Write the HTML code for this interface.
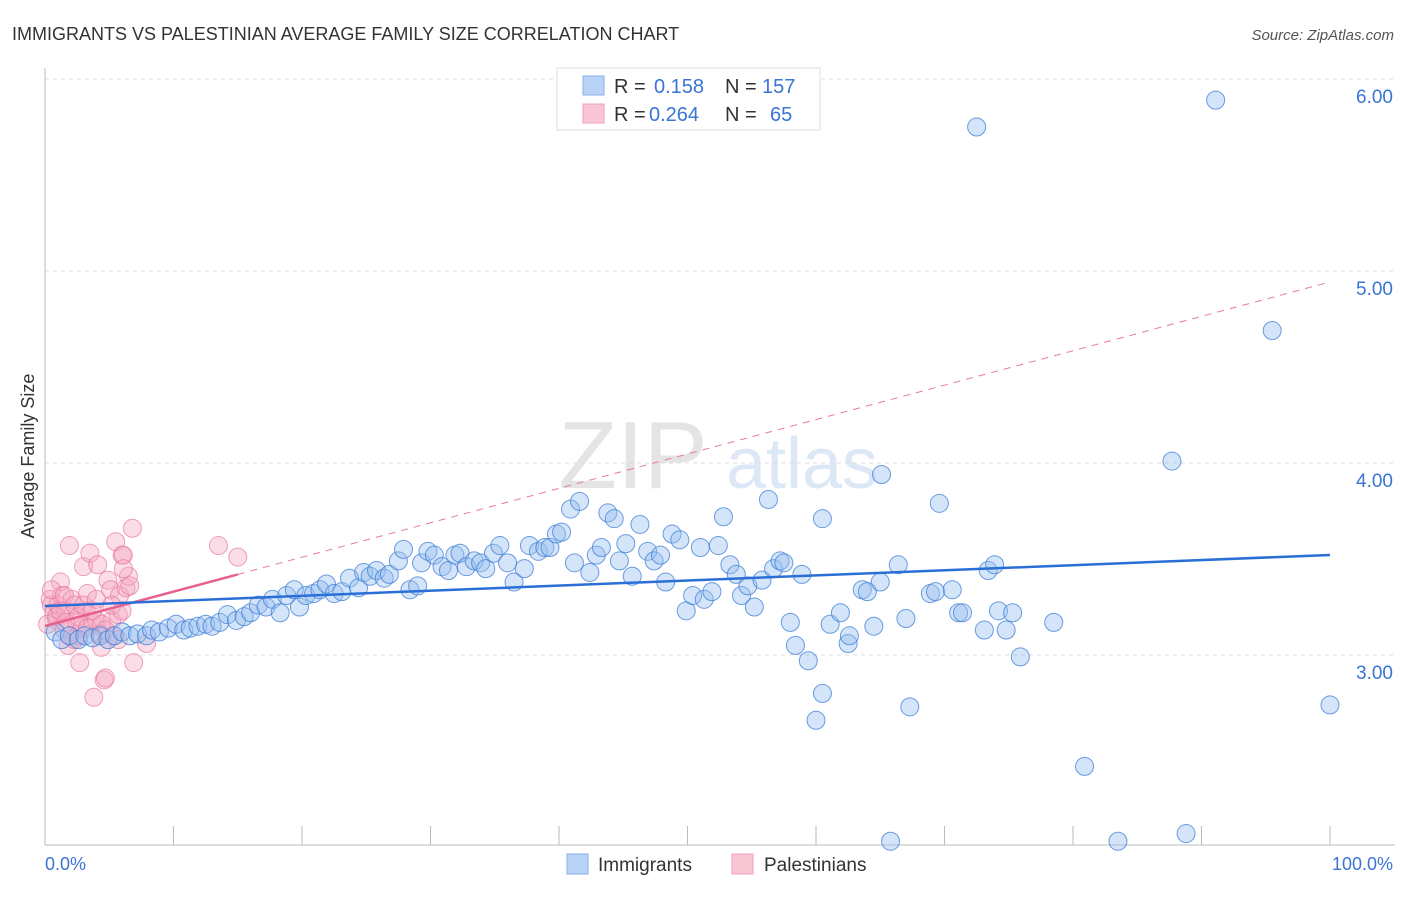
<!DOCTYPE html>
<html><head><meta charset="utf-8"><style>
body{margin:0;background:#fff;font-family:"Liberation Sans",sans-serif;}
svg text{font-family:"Liberation Sans",sans-serif;}
</style></head><body>
<svg id="chart" width="1406" height="892" xmlns="http://www.w3.org/2000/svg">
<text x="12" y="40" font-size="18" fill="#333">IMMIGRANTS VS PALESTINIAN AVERAGE FAMILY SIZE CORRELATION CHART</text>
<text x="1394" y="40" font-size="15" fill="#555" text-anchor="end" font-style="italic">Source: ZipAtlas.com</text>
<g>
<text x="633" y="488" font-size="96" fill="#e4e4e4" text-anchor="middle" font-family="Liberation Serif">ZIP</text>
<text x="802" y="488" font-size="72" fill="#dde8f6" text-anchor="middle">atlas</text>
</g>
<g id="grid"></g>
<g id="axes"></g>
<g id="marks"></g>
<g id="lines"></g>
<g>
<rect x="557" y="68" width="263" height="62" fill="#fff" stroke="#ddd"/>
<rect x="583" y="76" width="21" height="19" fill="#b8d3f5" stroke="#88b0e6"/>
<rect x="583" y="104" width="21" height="19" fill="#f9c6d6" stroke="#f0a0ba"/>
<text x="614" y="93" font-size="20" fill="#333">R =</text>
<text x="654" y="93" font-size="20" fill="#3a74d4">0.158</text>
<text x="725" y="93" font-size="20" fill="#333">N =</text>
<text x="762" y="93" font-size="20" fill="#3a74d4">157</text>
<text x="614" y="121" font-size="20" fill="#333">R =</text>
<text x="649" y="121" font-size="20" fill="#3a74d4">0.264</text>
<text x="725" y="121" font-size="20" fill="#333">N =</text>
<text x="770" y="121" font-size="20" fill="#3a74d4">65</text>
</g>
<g>
<rect x="567" y="854" width="21" height="20" fill="#b8d3f5" stroke="#88b0e6"/>
<text x="598" y="871" font-size="19" fill="#333">Immigrants</text>
<rect x="732" y="854" width="21" height="20" fill="#f9c6d6" stroke="#f0a0ba"/>
<text x="764" y="871" font-size="19" fill="#333">Palestinians</text>
</g>
<text transform="translate(34,456) rotate(-90)" font-size="18" fill="#333" text-anchor="middle">Average Family Size</text>
<text x="45" y="870" font-size="18" fill="#3a74d4">0.0%</text>
<text x="1393" y="870" font-size="18" fill="#3a74d4" text-anchor="end">100.0%</text>
</svg>
<script>
const yTicks=[3,4,5,6];
const yTickLabels=["3.00","4.00","5.00","6.00"];
const xTicks=[0,10,20,30,40,50,60,70,80,90,100];
const immX=[0.8,1.3,1.9,2.6,3.1,3.7,4.3,4.9,5.4,6.0,6.6,7.2,7.9,8.3,8.9,9.6,10.2,10.8,11.3,11.9,12.5,13.0,13.6,14.2,14.9,15.5,16.0,16.6,17.2,17.7,18.3,18.8,19.4,19.8,20.3,20.9,21.4,21.9,22.5,23.1,23.7,24.4,24.8,25.3,25.8,26.4,26.8,27.5,27.9,28.4,29.0,29.3,29.8,30.3,30.9,31.4,31.9,32.3,32.8,33.4,33.9,34.3,34.9,35.4,36.0,36.5,37.3,37.7,38.4,38.9,39.3,39.8,40.2,40.9,41.6,41.2,42.4,42.9,43.3,43.8,44.3,44.7,45.2,45.7,46.3,46.9,47.4,47.9,48.3,48.8,49.4,49.9,50.4,51.0,51.3,51.9,52.4,52.8,53.3,53.8,54.2,54.7,55.2,55.8,56.3,56.7,57.2,57.5,58.0,58.4,58.9,59.4,60.0,60.5,60.5,61.1,61.9,62.5,62.6,63.6,64.0,64.5,65.0,65.1,65.8,66.4,67.0,67.3,68.9,69.3,69.6,70.6,71.1,71.4,72.5,73.1,73.4,73.9,74.2,74.8,75.3,75.9,78.5,80.9,83.5,87.7,88.8,91.1,95.5,100];
const immY=[3.12,3.08,3.10,3.08,3.10,3.09,3.10,3.08,3.10,3.12,3.10,3.11,3.10,3.13,3.12,3.14,3.16,3.13,3.14,3.15,3.16,3.15,3.17,3.21,3.18,3.20,3.22,3.26,3.25,3.29,3.22,3.31,3.34,3.25,3.31,3.32,3.34,3.37,3.32,3.33,3.40,3.35,3.43,3.41,3.44,3.40,3.42,3.49,3.55,3.34,3.36,3.48,3.54,3.52,3.46,3.44,3.52,3.53,3.46,3.49,3.48,3.45,3.53,3.57,3.48,3.38,3.45,3.57,3.54,3.56,3.56,3.63,3.64,3.76,3.80,3.48,3.43,3.52,3.56,3.74,3.71,3.49,3.58,3.41,3.68,3.54,3.49,3.52,3.38,3.63,3.60,3.23,3.31,3.56,3.29,3.33,3.57,3.72,3.47,3.42,3.31,3.36,3.25,3.39,3.81,3.45,3.49,3.48,3.17,3.05,3.42,2.97,2.66,2.80,3.71,3.16,3.22,3.06,3.10,3.34,3.33,3.15,3.38,3.94,2.03,3.47,3.19,2.73,3.32,3.33,3.79,3.34,3.22,3.22,5.75,3.13,3.44,3.47,3.23,3.13,3.22,2.99,3.17,2.42,2.03,4.01,2.07,5.89,4.69,2.74];
const palX=[0.4,0.5,0.7,0.9,1.0,1.2,1.3,1.5,1.6,1.8,1.9,2.1,2.3,2.4,2.6,2.7,2.9,3.0,3.2,3.3,3.5,3.7,3.8,4.0,4.1,4.3,4.4,4.6,4.7,4.9,5.1,5.2,5.4,5.5,5.7,5.8,6.0,6.1,6.3,6.5,6.6,6.8,6.9,7.9,13.5,15.0,0.2,0.5,0.9,1.2,1.5,1.6,1.9,2.3,2.6,3.0,3.3,3.7,4.0,4.4,4.7,5.2,5.7,6.0,6.1];
const palY=[3.29,3.26,3.22,3.18,3.26,3.38,3.31,3.13,3.23,3.05,3.57,3.29,3.08,3.18,3.10,2.96,3.14,3.46,3.23,3.32,3.53,3.17,2.78,3.18,3.47,3.11,3.04,2.87,2.88,3.39,3.34,3.18,3.10,3.59,3.21,3.31,3.52,3.52,3.35,3.41,3.36,3.66,2.96,3.06,3.57,3.51,3.16,3.34,3.20,3.23,3.31,3.17,3.10,3.26,3.20,3.26,3.14,3.23,3.29,3.16,3.13,3.26,3.08,3.23,3.45];
const immTrend=[3.255,3.521];
const palTrend=[3.151,4.943];
const palSolidEnd=15;

const X0=45,X1=1330,YT=79,YB=845;
const sx=v=>X0+(v/100)*(X1-X0);
const sy=v=>YT+(6-v)*192;
const NS="http://www.w3.org/2000/svg";
function mk(tag,attrs,parent){const e=document.createElementNS(NS,tag);for(const k in attrs)e.setAttribute(k,attrs[k]);parent.appendChild(e);return e;}
const grid=document.getElementById('grid'),axes=document.getElementById('axes'),marks=document.getElementById('marks'),lines=document.getElementById('lines');
yTicks.forEach((t,i)=>{
 const l=mk('line',{x1:X0,x2:1395,y1:sy(t),y2:sy(t),stroke:'#ddd','stroke-dasharray':'4,4'},grid);
 
 
 const tx=mk('text',{x:1393,y:sy(t)+24,'font-size':19,fill:'#3a74d4','text-anchor':'end'},grid);
 tx.textContent=yTickLabels[i];
 
 
});
const ax=mk('line',{x1:X0,x2:1395,y1:YB,y2:YB,stroke:'#bbb'},axes);


const ay=mk('line',{x1:X0,x2:X0,y1:68,y2:YB,stroke:'#bbb'},axes);


xTicks.forEach(t=>{
 const l=mk('line',{x1:sx(t),x2:sx(t),y1:826,y2:YB,stroke:'#bbb'},axes);
 
 
});
palX.forEach((x,i)=>{
 const c=mk('circle',{cx:sx(x),cy:sy(palY[i]),r:9,fill:'rgba(246,170,196,0.4)',stroke:'rgba(232,120,160,0.7)','stroke-width':1},marks);
 
 
});
immX.forEach((x,i)=>{
 const c=mk('circle',{cx:sx(x),cy:sy(immY[i]),r:9,fill:'rgba(150,190,240,0.4)',stroke:'rgba(60,125,215,0.75)','stroke-width':1},marks);
 
 
});
const pv=x=>palTrend[0]+(palTrend[1]-palTrend[0])*x/100;
const pd=mk('line',{x1:sx(palSolidEnd),y1:sy(pv(palSolidEnd)),x2:sx(100),y2:sy(pv(100)),stroke:'#e8789f','stroke-width':1,'stroke-dasharray':'7,6'},lines);


const ps=mk('line',{x1:sx(0),y1:sy(pv(0)),x2:sx(palSolidEnd),y2:sy(pv(palSolidEnd)),stroke:'#e8608f','stroke-width':2.5},lines);


const bl=mk('line',{x1:sx(0),y1:sy(immTrend[0]),x2:sx(100),y2:sy(immTrend[1]),stroke:'#2a6fd6','stroke-width':2.5},lines);


</script>
</body></html>
